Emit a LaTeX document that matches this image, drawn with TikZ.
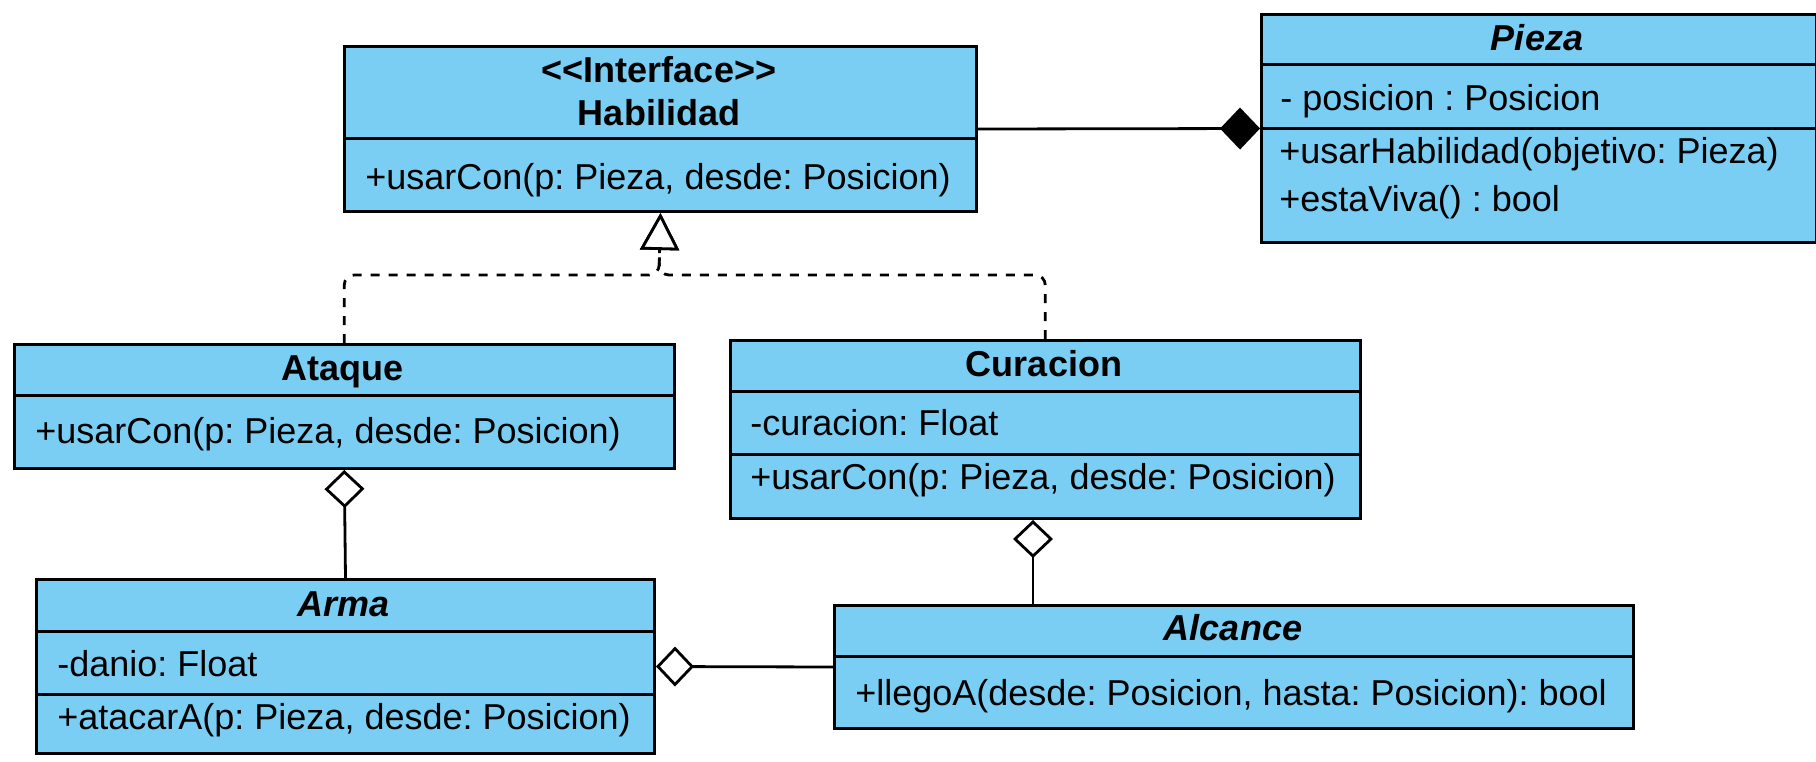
\documentclass[tikz,border=0pt]{standalone}
\usepackage{fontspec}
\setmainfont{Liberation Sans}
\usetikzlibrary{arrows.meta}
\definecolor{cls}{RGB}{122,206,243}
\frenchspacing
\begin{document}
\begin{tikzpicture}[x=0.5pt,y=-0.5pt,
  box/.style={draw=black, fill=cls, line width=1.5pt, inner sep=0pt, anchor=north west},
  sep/.style={line width=1.5pt},
  ttl/.style={font=\fontsize{18}{21}\selectfont\bfseries, inner sep=0pt, anchor=base},
  itl/.style={font=\fontsize{18}{21}\selectfont\bfseries\itshape, inner sep=0pt, anchor=base},
  mem/.style={font=\fontsize{18}{21}\selectfont, inner sep=0pt, anchor=base west},
  conn/.style={line width=1.4pt},
  aggr/.style={conn, -{Diamond[open, fill=white, length=19pt, width=20pt]}},
  comp/.style={conn, -{Diamond[length=20pt, width=21pt]}},
  real/.style={conn, dash pattern=on 4.5pt off 4.5pt, rounded corners=5pt, -{Triangle[open, fill=white, length=18.5pt, width=19.5pt]}}
]
\useasboundingbox (0,0) rectangle (1816,761);

% Habilidad
\node[box, minimum width=316pt, minimum height=82.5pt] (hab) at (343,45) {};
\draw[sep] (343,138) -- (975,138);
\node[ttl] (habst) at (659,82) {<\kern0pt<Interface>\kern0pt>};
\node[ttl] (habn) at (659,125) {Habilidad};
\node[mem] (habm) at (365,189) {+usarCon(p: Pieza, desde: Posicion)};

% Pieza
\node[box, minimum width=277.5pt, minimum height=114pt] (pieza) at (1260,13) {};
\draw[sep] (1260,64) -- (1815,64);
\draw[sep] (1260,128) -- (1815,128);
\node[itl] (piezan) at (1537,50) {Pieza};
\node[mem] (pieza1) at (1280,110) {- posicion : Posicion};
\node[mem] (pieza2) at (1279,163) {+usarHabilidad(objetivo: Pieza)};
\node[mem] (pieza3) at (1279,211) {+estaViva() : bool};

% Ataque
\node[box, minimum width=330.25pt, minimum height=62pt] (ataque) at (12.5,343) {};
\draw[sep] (12.5,395) -- (673,395);
\node[ttl] (ataquen) at (343,380) {Ataque};
\node[mem] (ataque1) at (35,443) {+usarCon(p: Pieza, desde: Posicion)};

% Curacion
\node[box, minimum width=315.25pt, minimum height=89pt] (cur) at (728.5,339) {};
\draw[sep] (728.5,391) -- (1359,391);
\draw[sep] (728.5,454) -- (1359,454);
\node[ttl] (curn) at (1044,376) {Curacion};
\node[mem] (cur1) at (750,435) {-curacion: Float};
\node[mem] (cur2) at (750,489) {+usarCon(p: Pieza, desde: Posicion)};

% Arma
\node[box, minimum width=309pt, minimum height=87pt] (arma) at (35,578) {};
\draw[sep] (35,631) -- (653,631);
\draw[sep] (35,694) -- (653,694);
\node[itl] (arman) at (344,616) {Arma};
\node[mem] (arma1) at (57,676) {-danio: Float};
\node[mem] (arma2) at (57,729) {+atacarA(p: Pieza, desde: Posicion)};

% Alcance
\node[box, minimum width=399.5pt, minimum height=61.5pt] (alc) at (833,604) {};
\draw[sep] (833,656) -- (1632,656);
\node[itl] (alcn) at (1233,640) {Alcance};
\node[mem] (alc1) at (855,705) {+llegoA(desde: Posicion, hasta: Posicion): bool};

% connectors
\coordinate (jn) at (659,275);
\draw[comp] (hab.east) -- (pieza.west);
\draw[real] (ataque.north) |- (jn) -- (hab.south);
\draw[real] (cur.north) |- (jn) -- (hab.south);
\draw[aggr] (arma.north) -- (ataque.south);
\draw[aggr] (alc.north -| 1033,0) -- (cur.south -| 1033,0);
\draw[aggr] (alc.west) -- (arma.east);
\end{tikzpicture}
\end{document}
